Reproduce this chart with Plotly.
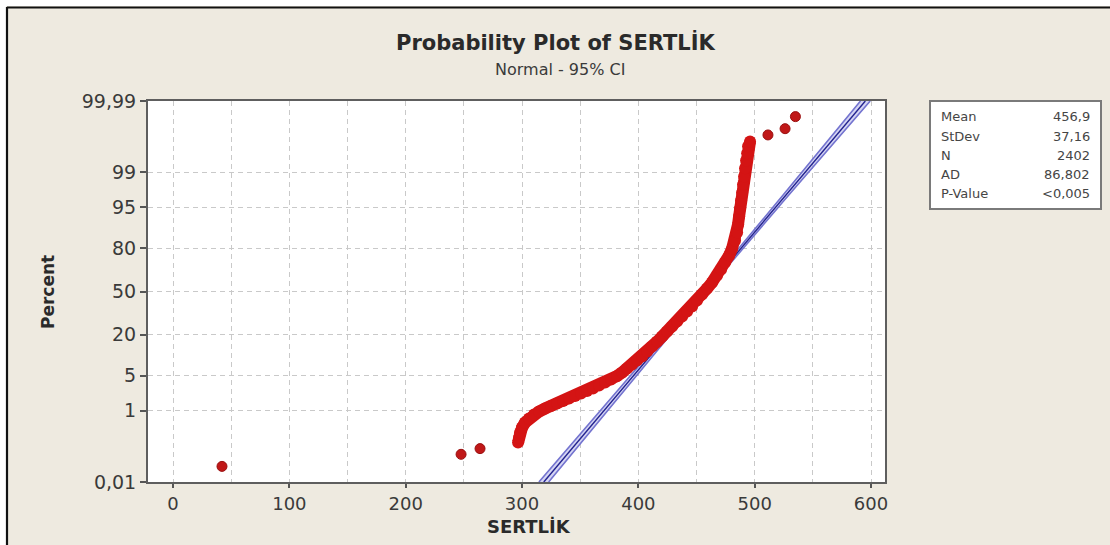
from statistics import NormalDist
import plotly.graph_objects as go

# --- data -----------------------------------------------------------------
# SERTLİK observations (value, cumulative percent) along the probability plot
sertlik = [42.1, 247.6, 263.9,
           296.6, 297.4, 298.3, 300.0, 302.6, 306.0, 310.3, 314.6, 319.8, 324.9,
           330.1, 335.3, 340.4, 345.6, 350.7, 355.9, 361.0, 366.2, 371.4, 376.5,
           381.7, 386.0, 390.3, 394.6, 398.9, 403.2, 407.5, 411.8, 416.1, 420.4,
           424.7, 429.0, 433.3, 437.6, 441.9, 446.2, 450.4, 454.7, 459.0, 463.3,
           467.6, 471.1, 474.5, 478.0, 480.6, 483.1, 484.9, 485.7, 486.6, 487.4,
           488.3, 489.2, 490.0, 490.9, 491.7, 492.6, 493.5, 494.3, 496.0,
           511.4, 526.1, 535.0]
percent = [0.032, 0.074, 0.108,
           0.159, 0.217, 0.294, 0.395, 0.525, 0.657, 0.815, 0.954, 1.116, 1.267,
           1.435, 1.62, 1.83, 2.06, 2.32, 2.60, 2.91, 3.32, 3.78, 4.28,
           4.95, 5.68, 6.63, 7.70, 8.89, 10.2, 12.1, 14.1, 16.4, 19.0,
           21.7, 24.7, 27.9, 31.3, 34.8, 38.5, 43.0, 47.7, 52.3, 57.0,
           62.3, 66.6, 71.4, 75.9, 80.0, 84.0, 87.5, 90.5, 92.9, 94.75,
           96.2, 97.3, 98.17, 98.76, 99.19, 99.475, 99.65, 99.77, 99.83,
           99.888, 99.926, 99.968]

# fitted normal parameters and summary statistics
mean, stdev, n_obs = 456.9, 37.16, 2402
stat_labels = ["Mean", "StDev", "N", "AD", "P-Value"]
stat_values = ["456,9", "37,16", "2402", "86,802", "<0,005"]

# probability-axis ticks
y_tick_pct = [0.01, 1, 5, 20, 50, 80, 95, 99, 99.99]
y_tick_txt = ["0,01", "1", "5", "20", "50", "80", "95", "99", "99,99"]
x_tick_vals = [0, 100, 200, 300, 400, 500, 600]

nd = NormalDist()
z = lambda p: nd.inv_cdf(p / 100.0)

# --- layout geometry (pixels) ---------------------------------------------
W, H = 1110, 545
L, R, T, B = 148, 885, 101, 482
pw, ph = R - L, B - T
px = lambda x: (x - L) / pw
py = lambda y: (B - y) / ph

FONT = "DejaVu Sans"
TXT = "#3a3a3a"

fig = go.Figure()

# fitted line with 95% confidence bounds
zmin, zmax = z(0.01), z(99.99)
steps = 60
zs = [zmin + (zmax - zmin) * i / steps for i in range(steps + 1)]
fit_x = [mean + zz * stdev for zz in zs]
half = [1.96 * stdev * ((1 / n_obs) + zz * zz / (2 * (n_obs - 1))) ** 0.5 for zz in zs]
fig.add_trace(go.Scatter(x=[a - h for a, h in zip(fit_x, half)], y=zs, mode="lines",
                         line=dict(color="#7373cf", width=1.6), hoverinfo="skip"))
fig.add_trace(go.Scatter(x=[a + h for a, h in zip(fit_x, half)], y=zs, mode="lines",
                         line=dict(color="#7373cf", width=1.6), hoverinfo="skip",
                         fill="tonextx", fillcolor="rgba(185,185,235,0.6)"))
fig.add_trace(go.Scatter(x=fit_x, y=zs, mode="lines",
                         line=dict(color="#23238f", width=1.4), hoverinfo="skip"))

# observations: isolated tails as dots, the dense body as a continuous band
body = slice(3, 62)
fig.add_trace(go.Scatter(x=sertlik[body], y=[z(p) for p in percent[body]],
                         mode="lines+markers",
                         line=dict(color="#d41414", width=12),
                         marker=dict(color="#d41414", size=12)))
tail_idx = [0, 1, 2, 62, 63, 64]
fig.add_trace(go.Scatter(x=[sertlik[i] for i in tail_idx],
                         y=[z(percent[i]) for i in tail_idx], mode="markers",
                         marker=dict(color="#c01818", size=10,
                                     line=dict(color="#9a1010", width=1))))

grid = dict(showgrid=True, gridcolor="#c9c9c9", gridwidth=1, griddash="5px,4px")
fig.update_xaxes(range=[-21.5, 612], tickvals=x_tick_vals, ticks="outside",
                 ticklen=4, tickwidth=1.5, tickcolor="#555",
                 tickfont=dict(family=FONT, size=18, color=TXT),
                 showline=True, linecolor="#5e5e5e", linewidth=2, mirror=True,
                 zeroline=False, minor=dict(dtick=50, tick0=0, showgrid=True,
                                            gridcolor="#c9c9c9", griddash="5px,4px"),
                 **grid)
fig.update_yaxes(range=[zmin, zmax], tickvals=[z(p) for p in y_tick_pct],
                 ticktext=y_tick_txt, ticks="outside", ticklen=6, tickwidth=1.5,
                 tickcolor="#555", tickfont=dict(family=FONT, size=19, color=TXT),
                 showline=True, linecolor="#5e5e5e", linewidth=2, mirror=True,
                 zeroline=False, **grid)

annotations = [
    dict(text="<b>Probability Plot of SERTLİK</b>", x=px(556), y=py(43),
         font=dict(family=FONT, size=21, color="#2a2a2a")),
    dict(text="Normal - 95% CI", x=px(560), y=py(69),
         font=dict(family=FONT, size=16, color="#3a3a3a")),
    dict(text="<b>Percent</b>", x=px(48), y=py(292), textangle=-90,
         font=dict(family=FONT, size=17, color="#2a2a2a")),
    dict(text="<b>SERTLİK</b>", x=px(529), y=py(526),
         font=dict(family=FONT, size=18, color="#2a2a2a")),
]
row_y = [116, 136, 155, 174, 193]
for lab, val, yy in zip(stat_labels, stat_values, row_y):
    annotations.append(dict(text=lab, x=px(939), y=py(yy), xanchor="left",
                            font=dict(family=FONT, size=13, color="#454545")))
    annotations.append(dict(text=val, x=px(1092), y=py(yy), xanchor="right",
                            font=dict(family=FONT, size=13, color="#454545")))
for a in annotations:
    a.setdefault("xanchor", "center")
    a.update(xref="paper", yref="paper", yanchor="middle", showarrow=False)

shapes = [
    # statistics box
    dict(type="rect", x0=px(930), x1=px(1101), y0=py(209), y1=py(101),
         fillcolor="white", line=dict(color="#7a7a7a", width=2)),
    # page frame
    dict(type="rect", x0=px(0), x1=px(W), y0=py(6), y1=py(0),
         fillcolor="white", line=dict(width=0)),
    dict(type="rect", x0=px(0), x1=px(6), y0=py(H), y1=py(0),
         fillcolor="white", line=dict(width=0)),
    dict(type="line", x0=px(7), x1=px(W), y0=py(7.5), y1=py(7.5),
         line=dict(color="#111", width=2.2)),
    dict(type="line", x0=px(7), x1=px(7), y0=py(7), y1=py(H),
         line=dict(color="#111", width=2.2)),
]
for s in shapes:
    s.update(xref="paper", yref="paper")

fig.update_layout(width=W, height=H, margin=dict(l=L, r=W - R, t=T, b=H - B),
                  paper_bgcolor="#eeeae0", plot_bgcolor="white", showlegend=False,
                  annotations=annotations, shapes=shapes)

fig.write_html("out.html")
